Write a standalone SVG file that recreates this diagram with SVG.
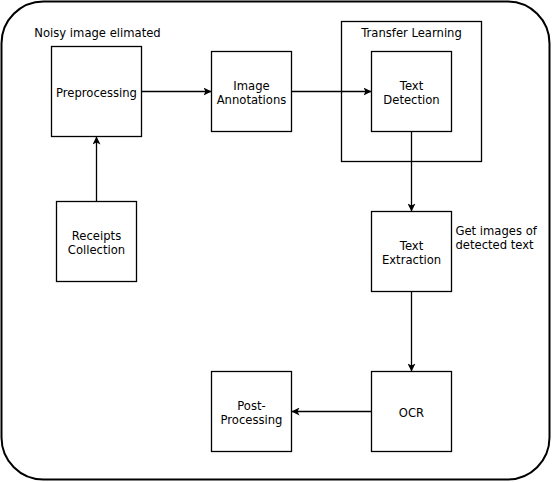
<svg xmlns="http://www.w3.org/2000/svg" width="552" height="482" viewBox="0 0 552 482">
<style>
.n{fill:#fff;stroke:#000;stroke-width:1.3}
.t{font-family:"DejaVu Sans",Verdana,sans-serif;font-size:11.6px;fill:#000;text-anchor:middle}
.l{font-family:"DejaVu Sans",Verdana,sans-serif;font-size:11.6px;fill:#000}
.c{fill:none;stroke:#000;stroke-width:1.3}
</style>
<defs>
<marker id="a" viewBox="0 0 10 10" refX="10" refY="5" markerWidth="8" markerHeight="8" markerUnits="userSpaceOnUse" orient="auto">
<path d="M0,0 L10,5 L0,10 L2.5,5 Z" fill="#000"/>
</marker>
</defs>
<rect x="1.5" y="1.5" width="548" height="478" rx="42" ry="42" fill="#fff" stroke="#000" stroke-width="2"/>
<g id="transfer">
<rect class="n" x="341.5" y="21.5" width="140" height="140"/>
<text class="t" x="411.5" y="37">Transfer Learning</text>
</g>
<g id="preprocessing">
<rect class="n" x="51.5" y="46.5" width="90" height="90"/>
<text class="t" x="96.5" y="97">Preprocessing</text>
</g>
<g id="noisy-label"><text class="t" x="97.5" y="37">Noisy image elimated</text></g>
<g id="annotations">
<rect class="n" x="211.5" y="51.5" width="80" height="80"/>
<text class="t" x="251.5" y="90">Image</text>
<text class="t" x="251.5" y="104">Annotations</text>
</g>
<g id="detection">
<rect class="n" x="371.5" y="51.5" width="80" height="80"/>
<text class="t" x="411.5" y="90">Text</text>
<text class="t" x="411.5" y="104">Detection</text>
</g>
<g id="extraction">
<rect class="n" x="371.5" y="211.5" width="80" height="80"/>
<text class="t" x="411.5" y="249.5">Text</text>
<text class="t" x="411.5" y="263.5">Extraction</text>
</g>
<g id="extraction-label">
<text class="l" x="455.5" y="235">Get images of</text>
<text class="l" x="455.5" y="249">detected text</text>
</g>
<g id="ocr">
<rect class="n" x="371.5" y="371.5" width="80" height="80"/>
<text class="t" x="411.5" y="417">OCR</text>
</g>
<g id="postprocessing">
<rect class="n" x="211.5" y="371.5" width="80" height="80"/>
<text class="t" x="251.5" y="410">Post-</text>
<text class="t" x="251.5" y="424">Processing</text>
</g>
<g id="receipts">
<rect class="n" x="56.5" y="201.5" width="80" height="80"/>
<text class="t" x="96.5" y="240">Receipts</text>
<text class="t" x="96.5" y="254">Collection</text>
</g>
<g id="connectors">
<path class="c" d="M141.5,91.5 H211.5" marker-end="url(#a)"/>
<path class="c" d="M291.5,91.5 H371.5" marker-end="url(#a)"/>
<path class="c" d="M411.5,131.5 V211.5" marker-end="url(#a)"/>
<path class="c" d="M411.5,291.5 V371.5" marker-end="url(#a)"/>
<path class="c" d="M371.5,411.5 H291.5" marker-end="url(#a)"/>
<path class="c" d="M96.5,201.5 V136.5" marker-end="url(#a)"/>
</g>
</svg>
